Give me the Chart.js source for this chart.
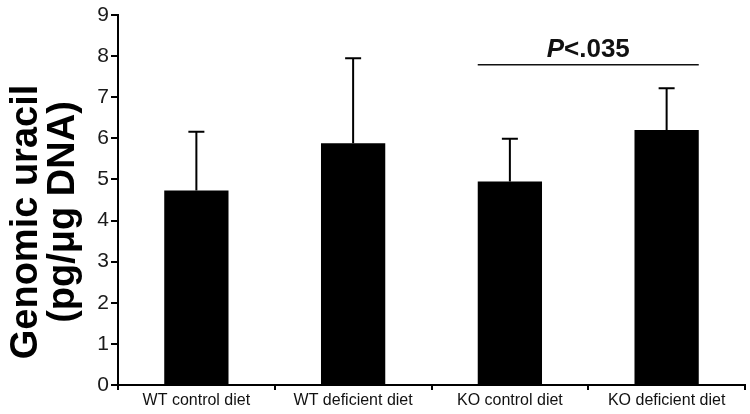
<!DOCTYPE html>
<html>
<head>
<meta charset="utf-8">
<script src="https://cdn.jsdelivr.net/npm/chart.js@4.4.0/dist/chart.umd.min.js"></script>
<style>
    html, body { margin: 0; padding: 0; background: #fff; }
    #wrap { width: 750px; height: 414px; }
</style>
</head>
<body>
<div id="wrap"><canvas id="myChart" width="750" height="414"></canvas></div>
<script>
// data
var groups = ["WT control diet", "WT deficient diet", "KO control diet", "KO deficient diet"];
var means = [4.73, 5.88, 4.95, 6.2];
var sds = [1.43, 2.07, 1.04, 1.02];
var yTicks = [0, 1, 2, 3, 4, 5, 6, 7, 8, 9];
var yTitle = ["Genomic uracil", "(pg/\u03bcg DNA)"];
var sigPair = [2, 3];
var sigLevel = 7.79;
var sigLabel = ["P", "<.035"];

var FONT = "'Liberation Sans', Arial, Helvetica, sans-serif";

/// draws the upper SD whisker on each bar
const errorBars = {
    id: "errorBars",
    afterDatasetsDraw(chart) {
        const ctx = chart.ctx;
        const meta = chart.getDatasetMeta(0);
        const y = chart.scales.y;
        ctx.save();
        ctx.strokeStyle = "#000";
        ctx.lineWidth = 2;
        meta.data.forEach((bar, i) => {
            const top = y.getPixelForValue(means[i] + sds[i]);
            ctx.beginPath();
            ctx.moveTo(bar.x, bar.y);
            ctx.lineTo(bar.x, top);
            ctx.moveTo(bar.x - 8, top);
            ctx.lineTo(bar.x + 8, top);
            ctx.stroke();
        });
        ctx.restore();
    }
};

/// significance line + label over two bars
const sigMark = {
    id: "sigMark",
    afterDatasetsDraw(chart) {
        const ctx = chart.ctx;
        const meta = chart.getDatasetMeta(0);
        const a = meta.data[sigPair[0]];
        const b = meta.data[sigPair[1]];
        const x1 = a.x - a.width / 2;
        const x2 = b.x + b.width / 2;
        const yy = chart.scales.y.getPixelForValue(sigLevel);
        ctx.save();
        ctx.strokeStyle = "#111";
        ctx.lineWidth = 1.5;
        ctx.beginPath();
        ctx.moveTo(x1, yy);
        ctx.lineTo(x2, yy);
        ctx.stroke();

        ctx.fillStyle = "#111";
        ctx.textBaseline = "alphabetic";
        const f1 = "italic bold 26px " + FONT;
        const f2 = "bold 26px " + FONT;
        ctx.font = f1;
        const w1 = ctx.measureText(sigLabel[0]).width;
        ctx.font = f2;
        const w2 = ctx.measureText(sigLabel[1]).width;
        let sx = (x1 + x2) / 2 - (w1 + w2) / 2;
        const ty = yy - 8;
        ctx.font = f1;
        ctx.fillText(sigLabel[0], sx, ty);
        ctx.font = f2;
        ctx.fillText(sigLabel[1], sx + w1, ty);
        ctx.restore();
    }
};

/// big two-line rotated y title
const yTitlePlugin = {
    id: "yTitlePlugin",
    afterDraw(chart) {
        const ctx = chart.ctx;
        const area = chart.chartArea;
        const mid = (area.top + area.bottom) / 2;
        ctx.save();
        ctx.fillStyle = "#000";
        ctx.font = "bold 38px " + FONT;
        ctx.textAlign = "center";
        ctx.textBaseline = "alphabetic";
        ctx.rotate(-Math.PI / 2);
        ctx.fillText(yTitle[0], -(mid + 22), 37);
        ctx.fillText(yTitle[1], -(mid + 12), 74);
        ctx.restore();
    }
};

const el = document.getElementById("myChart");

const config = {
    type: "bar",
    data: {
        labels: groups,
        datasets: [{
            data: means,
            backgroundColor: "#000",
            borderWidth: 0,
            categoryPercentage: 1,
            barPercentage: 0.41
        }]
    },
    options: {
        responsive: false,
        animation: false,
        layout: {
            padding: { top: 15, right: 5, left: 0, bottom: 0 }
        },
        plugins: {
            legend: { display: false },
            tooltip: { enabled: false }
        },
        scales: {
            x: {
                grid: {
                    offset: true,
                    drawOnChartArea: false,
                    drawTicks: true,
                    tickLength: 5,
                    color: "#000",
                    lineWidth: 2
                },
                border: { display: true, color: "#000", width: 2 },
                ticks: {
                    color: "#111",
                    font: { family: FONT, size: 16 },
                    padding: 1,
                    maxRotation: 0,
                    autoSkip: false
                },
                afterFit(scale) { scale.height = 29; }
            },
            y: {
                min: 0,
                max: 9,
                afterBuildTicks(scale) {
                    scale.ticks = yTicks.map(v => ({ value: v }));
                },
                grid: {
                    drawOnChartArea: false,
                    drawTicks: true,
                    tickLength: 7,
                    color: "#000",
                    lineWidth: 2
                },
                border: { display: true, color: "#000", width: 2 },
                ticks: {
                    color: "#1a1a1a",
                    font: { family: FONT, size: 21 },
                    padding: 2
                },
                afterFit(scale) { scale.width = 118; }
            }
        }
    },
    plugins: [errorBars, sigMark, yTitlePlugin]
};

new Chart(el, config);
</script>
</body>
</html>
